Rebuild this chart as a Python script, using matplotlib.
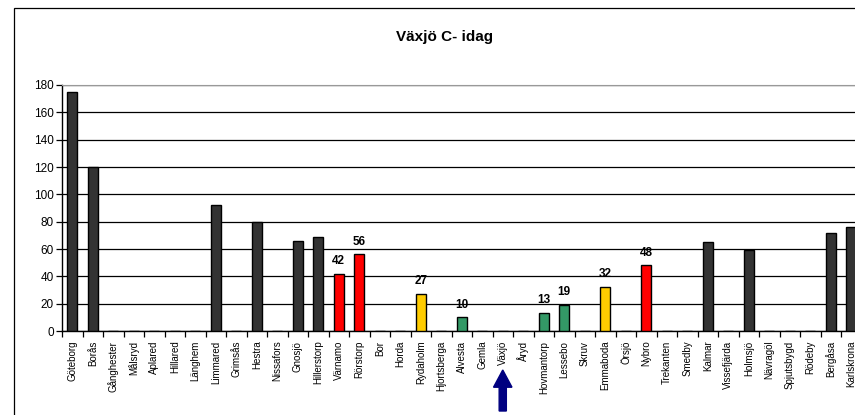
import matplotlib
matplotlib.use("Agg")
import matplotlib.pyplot as plt
from matplotlib.patches import Rectangle, FancyArrow
from matplotlib.transforms import blended_transform_factory
import numpy as np

plt.rcParams['font.family'] = ['Liberation Sans', 'DejaVu Sans']

stations = ["Göteborg", "Borås", "Gånghester", "Målsryd", "Aplared", "Hillared",
            "Länghem", "Limmared", "Grimsås", "Hestra", "Nissafors", "Gnosjö",
            "Hillerstorp", "Värnamo", "Rörstorp", "Bor", "Horda", "Rydaholm",
            "Hjortsberga", "Alvesta", "Gemla", "Växjö", "Åryd", "Hovmantorp",
            "Lessebo", "Skruv", "Emmaboda", "Örsjö", "Nybro", "Trekanten",
            "Smedby", "Kalmar", "Vissefjärda", "Holmsjö", "Nävragöl",
            "Spjutsbygd", "Rödeby", "Bergåsa", "Karlskrona"]

minutes = [175, 120, 0, 0, 0, 0,
           0, 92, 0, 80, 0, 66,
           69, 42, 56, 0, 0, 27,
           0, 10, 0, 0, 0, 13,
           19, 0, 32, 0, 48, 0,
           0, 65, 0, 59, 0,
           0, 0, 72, 76]

# colour group per station: d = dark, r = red, y = yellow, g = green
groups = ["d", "d", "d", "d", "d", "d",
          "d", "d", "d", "d", "d", "d",
          "d", "r", "r", "d", "d", "y",
          "d", "g", "d", "d", "d", "g",
          "g", "d", "y", "d", "r", "d",
          "d", "d", "d", "d", "d",
          "d", "d", "d", "d"]

palette = {"d": "#333333", "r": "#FF0000", "y": "#FFCC00", "g": "#339966"}
labelled = {"r", "y", "g"}

W, H = 855, 415
fig = plt.figure(figsize=(W / 100, H / 100), dpi=100)
fig.patch.set_facecolor("white")

# outer chart frame
fig.patches.append(Rectangle((14 / W, -0.2), 2.0, (H - 8) / H + 0.2,
                             transform=fig.transFigure, fill=False,
                             edgecolor="black", linewidth=0.9))

n = len(stations)
step = 20.5
ax = fig.add_axes([62 / W, 84 / H, n * step / W, 246 / H])

x = np.arange(n)
colors = [palette[g] for g in groups]
ax.bar(x, minutes, width=0.5, color=colors, edgecolor="black", linewidth=1.0,
       zorder=3)

for xi, v, g in zip(x, minutes, groups):
    if g in labelled and v > 0:
        ax.text(xi, v + 5, str(v), ha="center", va="bottom", fontsize=8.5,
                fontweight="bold", zorder=4)

ax.set_xlim(-0.5, n - 0.5)
ax.set_ylim(0, 180)
ax.set_yticks(np.arange(0, 181, 20))
ax.yaxis.grid(True, color="black", linewidth=0.9, zorder=0)
ax.set_axisbelow(True)

ax.set_xticks(x)
ax.set_xticklabels(stations, rotation=90, fontsize=7)
ax.set_xticks(np.arange(-0.5, n, 1.0), minor=True)
ax.tick_params(axis="x", which="major", length=0, pad=7)
ax.tick_params(axis="x", which="minor", length=4, width=0.9, direction="out")
ax.tick_params(axis="y", length=4, width=0.9, labelsize=8.5, pad=2)

for side in ("left", "bottom"):
    ax.spines[side].set_color("black")
    ax.spines[side].set_linewidth(1.0)
ax.spines["top"].set_color("#999999")
ax.spines["right"].set_color("#999999")

fig.text(444 / W, 1 - 37 / H, "Växjö C- idag", ha="center", va="center",
         fontsize=11, fontweight="bold")

# arrow pointing at Växjö
vx = stations.index("Växjö")
trans = blended_transform_factory(ax.transData, ax.transAxes)
tail = (331 - 411) / 246
tip = (331 - 370) / 246
ax.add_patch(FancyArrow(vx, tail, 0, tip - tail, width=0.35, head_width=0.9,
                        head_length=0.07, length_includes_head=True,
                        color="#000080", transform=trans, clip_on=False,
                        zorder=5))

fig.savefig("out.png", dpi=100)
